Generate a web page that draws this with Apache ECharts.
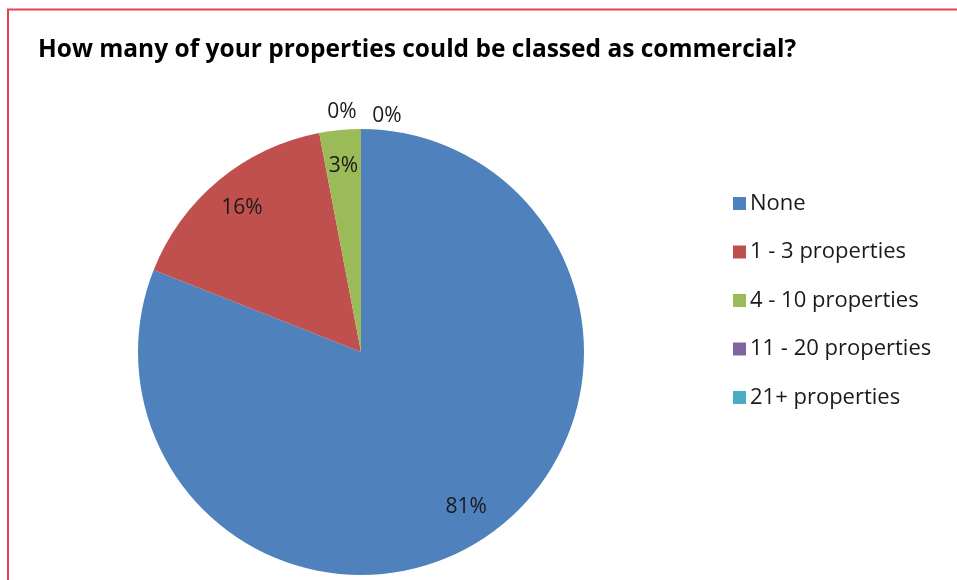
<!DOCTYPE html>
<html>
<head>
<meta charset="utf-8">
<script src="https://cdn.jsdelivr.net/npm/echarts@6/dist/echarts.min.js"></script>
<style>
  html, body { margin: 0; padding: 0; background: #fff; }
  #chart { width: 957px; height: 580px; }
</style>
</head>
<body>
<div id="chart"></div>
<script>
// Survey answers: share of landlords by number of commercial properties (%)
const categories = ['None', '1 - 3 properties', '4 - 10 properties', '11 - 20 properties', '21+ properties'];
const shares = [81, 16, 3, 0, 0];
const colors = ['#4F81BD', '#C0504D', '#9BBB59', '#8064A2', '#4BACC6'];

const titleText = 'How many of your properties could be classed as commercial?';

// Pie geometry
const cx = 361, cy = 352, r = 223;
const fontFamily = '"Open Sans", "Noto Sans", sans-serif';

const chart = echarts.init(document.getElementById('chart'));

const pieData = categories.map((name, i) => ({
  name,
  value: shares[i],
  itemStyle: { color: colors[i] }
}));

// Label ring: a transparent pie whose mid-radius sits near the outer edge
const labelData = categories.map((name, i) => ({
  name,
  value: shares[i],
  itemStyle: { color: 'rgba(0,0,0,0)' },
  label: { position: shares[i] === 0 ? 'outside' : 'inside' }
}));

// Zero-share labels sit just above the top of the pie, one either side
let zeroCount = 0;
const zeroOffsets = [-19, 26];

chart.setOption({
  animation: false,
  title: {
    text: titleText,
    left: 38,
    top: 38,
    padding: 0,
    textStyle: { fontFamily, fontSize: 24.5, fontWeight: 'bold', color: '#000' }
  },
  legend: {
    orient: 'vertical',
    left: 728,
    top: 186.5,
    itemWidth: 13,
    itemHeight: 13,
    itemGap: 24.5,
    icon: 'rect',
    selectedMode: false,
    textStyle: { fontFamily, fontSize: 22, color: '#1a1a1a', lineHeight: 24, padding: [0, 0, 0, -1] },
    data: categories
  },
  graphic: [{
    type: 'rect',
    silent: true,
    shape: { x: 8, y: 9.5, width: 1200, height: 800 },
    style: { fill: 'none', stroke: '#e9404f', lineWidth: 2 }
  }],
  series: [
    {
      type: 'pie',
      center: [cx, cy],
      radius: [0, r],
      startAngle: 90,
      clockwise: true,
      label: { show: false },
      labelLine: { show: false },
      emphasis: { disabled: true },
      itemStyle: { borderWidth: 0 },
      data: pieData
    },
    {
      type: 'pie',
      center: [cx, cy],
      radius: [r * 0.65, r],
      startAngle: 90,
      clockwise: true,
      silent: true,
      avoidLabelOverlap: false,
      emphasis: { disabled: true },
      label: {
        show: true,
        formatter: '{c}%',
        fontFamily,
        fontSize: 21,
        color: '#1a1a1a'
      },
      labelLine: { show: false },
      labelLayout: function (params) {
        if (shares[params.dataIndex] === 0) {
          const k = zeroCount++ % 2;
          return {
            x: cx + zeroOffsets[k],
            y: cy - r - 17 + k * 4,
            align: 'center',
            verticalAlign: 'middle'
          };
        }
        return {};
      },
      data: labelData
    }
  ]
});
</script>
</body>
</html>
